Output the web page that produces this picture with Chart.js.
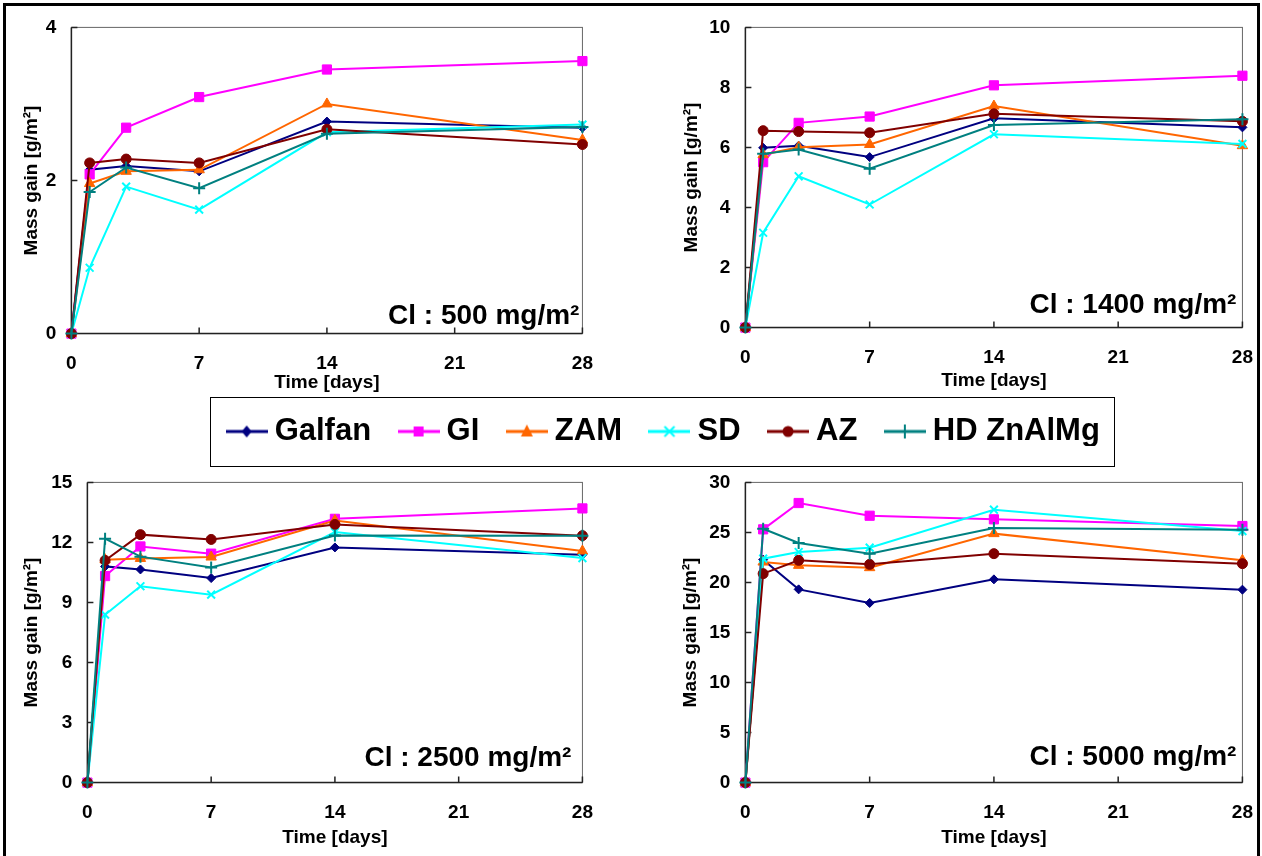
<!DOCTYPE html>
<html>
<head>
<meta charset="utf-8">
<script src="https://cdn.jsdelivr.net/npm/chart.js@4.4.0/dist/chart.umd.min.js"></script>
<style>
  html, body { margin: 0; padding: 0; background: #fff; }
  body { width: 1262px; height: 856px; position: relative; overflow: hidden; }
  #frame { position: absolute; left: 3px; top: 3px; width: 1257px; height: 900px; border: 3px solid #000; box-sizing: border-box; }
  #legendBox { position: absolute; left: 210px; top: 397px; width: 905px; height: 70px; border: 1px solid #000; box-sizing: border-box; background: #fff; }
  canvas { position: absolute; }
</style>
</head>
<body>
<div id="frame"></div>
<div id="legendBox"></div>
<script>
// sampling days
const days = [0, 1, 3, 7, 14, 28];
const xTicks = [0, 7, 14, 21, 28];
const materials = ['Galfan', 'GI', 'ZAM', 'SD', 'AZ', 'HD ZnAlMg'];

// mass gain [g/m²], one row per material (same order as materials)
const cl500 = [
  [0, 2.14, 2.19, 2.12, 2.77, 2.69],
  [0, 2.08, 2.69, 3.09, 3.45, 3.56],
  [0, 1.96, 2.12, 2.14, 3.00, 2.53],
  [0, 0.86, 1.92, 1.62, 2.63, 2.73],
  [0, 2.23, 2.28, 2.23, 2.67, 2.47],
  [0, 1.85, 2.17, 1.90, 2.61, 2.70]
];
const cl1400 = [
  [0, 5.99, 6.06, 5.68, 6.97, 6.67],
  [0, 5.51, 6.82, 7.03, 8.07, 8.39],
  [0, 5.76, 6.01, 6.10, 7.38, 6.06],
  [0, 3.16, 5.04, 4.10, 6.44, 6.12],
  [0, 6.56, 6.53, 6.49, 7.12, 6.87],
  [0, 5.79, 5.93, 5.29, 6.75, 6.94]
];
const cl2500 = [
  [0, 10.80, 10.65, 10.22, 11.75, 11.39],
  [0, 10.32, 11.80, 11.44, 13.18, 13.70],
  [0, 11.14, 11.20, 11.27, 13.10, 11.57],
  [0, 8.39, 9.81, 9.39, 12.52, 11.22],
  [0, 11.10, 12.39, 12.15, 12.90, 12.34],
  [0, 12.19, 11.29, 10.75, 12.35, 12.34]
];
const cl5000 = [
  [0, 22.28, 19.31, 17.95, 20.31, 19.28],
  [0, 25.31, 27.94, 26.67, 26.31, 25.64],
  [0, 22.04, 21.71, 21.48, 24.88, 22.21],
  [0, 22.38, 23.04, 23.48, 27.27, 25.14],
  [0, 20.88, 22.21, 21.81, 22.88, 21.88],
  [0, 25.37, 23.94, 22.88, 25.44, 25.27]
];
const panelLabels = ['Cl : 500 mg/m²', 'Cl : 1400 mg/m²', 'Cl : 2500 mg/m²', 'Cl : 5000 mg/m²'];
const yMax = [4, 10, 15, 30];
const yStep = [2, 2, 3, 5];

// styles
const colors = ['#000080', '#FF00FF', '#FF6600', '#00FFFF', '#800000', '#008080'];
const markers = ['rectRot', 'rect', 'triangle', 'crossRot', 'circle', 'cross'];
const markerSize = [4.5, 6.5, 6, 5.5, 5, 6];
const FONT = '"Liberation Sans", Arial, sans-serif';

// plot area of each panel in page pixels: [left, top, right, bottom]
const panels = [
  { values: cl500, area: [71, 27, 582, 333], yTitleGap: 40, xTitleGap: 49, note: [3, 10] },
  { values: cl1400, area: [745, 27, 1242, 327], yTitleGap: 54, xTitleGap: 53, note: [6, 15] },
  { values: cl2500, area: [87, 482, 582, 782], yTitleGap: 56, xTitleGap: 55, note: [11, 17] },
  { values: cl5000, area: [745, 482, 1242, 782], yTitleGap: 55, xTitleGap: 55, note: [6, 18] }
];

Chart.defaults.font.family = FONT;
Chart.defaults.color = '#000';

// box around plot area, inward tick marks and the Cl label
const plotDecor = {
  id: 'plotDecor',
  beforeDatasetsDraw(chart) {
    const { ctx, chartArea: a, scales: { x, y } } = chart;
    ctx.save();
    ctx.strokeStyle = '#666';
    ctx.lineWidth = 1;
    ctx.strokeRect(a.left, a.top, a.right - a.left, a.bottom - a.top);
    ctx.strokeStyle = '#222';
    ctx.lineWidth = 1.5;
    ctx.beginPath();
    ctx.moveTo(a.left, a.top);
    ctx.lineTo(a.left, a.bottom);
    ctx.lineTo(a.right, a.bottom);
    x.ticks.forEach(t => {
      const px = x.getPixelForValue(t.value);
      ctx.moveTo(px, a.bottom);
      ctx.lineTo(px, a.bottom - 6);
    });
    y.ticks.forEach(t => {
      const py = y.getPixelForValue(t.value);
      ctx.moveTo(a.left, py);
      ctx.lineTo(a.left + 6, py);
    });
    ctx.stroke();
    ctx.restore();
  },
  afterDraw(chart, args, opts) {
    const { ctx, chartArea: a } = chart;
    ctx.save();
    ctx.font = 'bold 28px ' + FONT;
    ctx.fillStyle = '#000';
    ctx.textAlign = 'right';
    ctx.textBaseline = 'alphabetic';
    ctx.fillText(opts.text, a.right - opts.dx, a.bottom - opts.dy);
    ctx.restore();
  }
};

panels.forEach((p, k) => {
  const [l, t, r, b] = p.area;
  const yW = p.yTitleGap + 15.4;
  const xH = p.xTitleGap + 12.4;
  const cv = document.createElement('canvas');
  cv.width = Math.round(r - l + yW + 30);
  cv.height = Math.round(b - t + xH + 20);
  document.body.appendChild(cv);

  const chart = new Chart(cv, {
    type: 'line',
    data: {
      datasets: materials.map((name, i) => ({
        label: name,
        data: days.map((d, j) => ({ x: d, y: p.values[i][j] })),
        borderColor: colors[i],
        backgroundColor: colors[i],
        pointStyle: markers[i],
        pointRadius: markerSize[i],
        pointBorderWidth: (markers[i] === 'cross' || markers[i] === 'crossRot') ? 2 : 1,
        borderWidth: 2,
        tension: 0,
        clip: false,
        order: -i
      }))
    },
    options: {
      responsive: false,
      maintainAspectRatio: false,
      animation: false,
      events: [],
      layout: { padding: { top: 4, right: 8, left: 0, bottom: 0 } },
      plugins: {
        legend: { display: false },
        tooltip: { enabled: false },
        plotDecor: { text: panelLabels[k], dx: p.note[0], dy: p.note[1] }
      },
      scales: {
        x: {
          type: 'linear', min: 0, max: 28,
          afterBuildTicks: s => { s.ticks = xTicks.map(v => ({ value: v })); },
          afterFit: s => { s.height = xH; },
          grid: { display: false, drawTicks: false },
          border: { display: false },
          ticks: { padding: 19, autoSkip: false, maxRotation: 0, font: { size: 19, weight: 'bold' } },
          title: { display: true, text: 'Time [days]', font: { size: 19, weight: 'bold' }, padding: { top: 0, bottom: 1 } }
        },
        y: {
          type: 'linear', min: 0, max: yMax[k],
          afterFit: s => { s.width = yW; },
          grid: { display: false, drawTicks: false },
          border: { display: false },
          ticks: { stepSize: yStep[k], padding: 15, font: { size: 19, weight: 'bold' } },
          title: { display: true, text: 'Mass gain [g/m²]', font: { size: 19, weight: 'bold' }, padding: { top: 4, bottom: 0 } }
        }
      }
    },
    plugins: [plotDecor]
  });

  // size the canvas so the plot area lands on the target box
  const ca = chart.chartArea;
  chart.resize(
    Math.round(cv.width + (r - l) - (ca.right - ca.left)),
    Math.round(cv.height + (b - t) - (ca.bottom - ca.top))
  );
  const ca2 = chart.chartArea;
  cv.style.left = Math.round(l - ca2.left) + 'px';
  cv.style.top = Math.round(t - ca2.top) + 'px';
});

// legend symbol: line segment with the series marker
function legendIcon(i) {
  const c = document.createElement('canvas');
  c.width = 42; c.height = 18;
  const g = c.getContext('2d');
  const cx = 21, cy = 9;
  g.strokeStyle = colors[i];
  g.fillStyle = colors[i];
  g.lineWidth = 3;
  g.beginPath(); g.moveTo(0, cy); g.lineTo(42, cy); g.stroke();
  g.lineWidth = 2;
  g.beginPath();
  switch (markers[i]) {
    case 'rectRot':
      g.moveTo(cx, cy - 6); g.lineTo(cx + 5, cy); g.lineTo(cx, cy + 6); g.lineTo(cx - 5, cy); g.closePath(); g.fill(); break;
    case 'rect':
      g.rect(cx - 5, cy - 5, 10, 10); g.fill(); break;
    case 'triangle':
      g.moveTo(cx, cy - 7); g.lineTo(cx + 6, cy + 5); g.lineTo(cx - 6, cy + 5); g.closePath(); g.fill(); break;
    case 'crossRot':
      g.moveTo(cx - 5, cy - 5); g.lineTo(cx + 5, cy + 5); g.moveTo(cx + 5, cy - 5); g.lineTo(cx - 5, cy + 5); g.stroke(); break;
    case 'circle':
      g.arc(cx, cy, 5.5, 0, Math.PI * 2); g.fill(); break;
    case 'cross':
      g.moveTo(cx, cy - 7); g.lineTo(cx, cy + 7); g.stroke(); break;
  }
  return c;
}

const lg = document.createElement('canvas');
lg.width = 1100; lg.height = 130;
lg.style.left = '117px';
lg.style.top = '381px';
document.body.appendChild(lg);

new Chart(lg, {
  type: 'line',
  data: { datasets: materials.map(name => ({ label: name, data: [] })) },
  options: {
    responsive: false,
    animation: false,
    events: [],
    layout: { padding: 0 },
    scales: { x: { display: false }, y: { display: false } },
    plugins: {
      tooltip: { enabled: false },
      legend: {
        position: 'top',
        labels: {
          usePointStyle: true,
          pointStyleWidth: 25,
          padding: 35,
          color: '#000',
          font: { size: 31, weight: 'bold' },
          generateLabels: () => materials.map((name, i) => ({
            text: name, pointStyle: legendIcon(i), fillStyle: colors[i], strokeStyle: colors[i],
            lineWidth: 0, hidden: false, datasetIndex: i
          }))
        }
      }
    }
  }
});
</script>
</body>
</html>
